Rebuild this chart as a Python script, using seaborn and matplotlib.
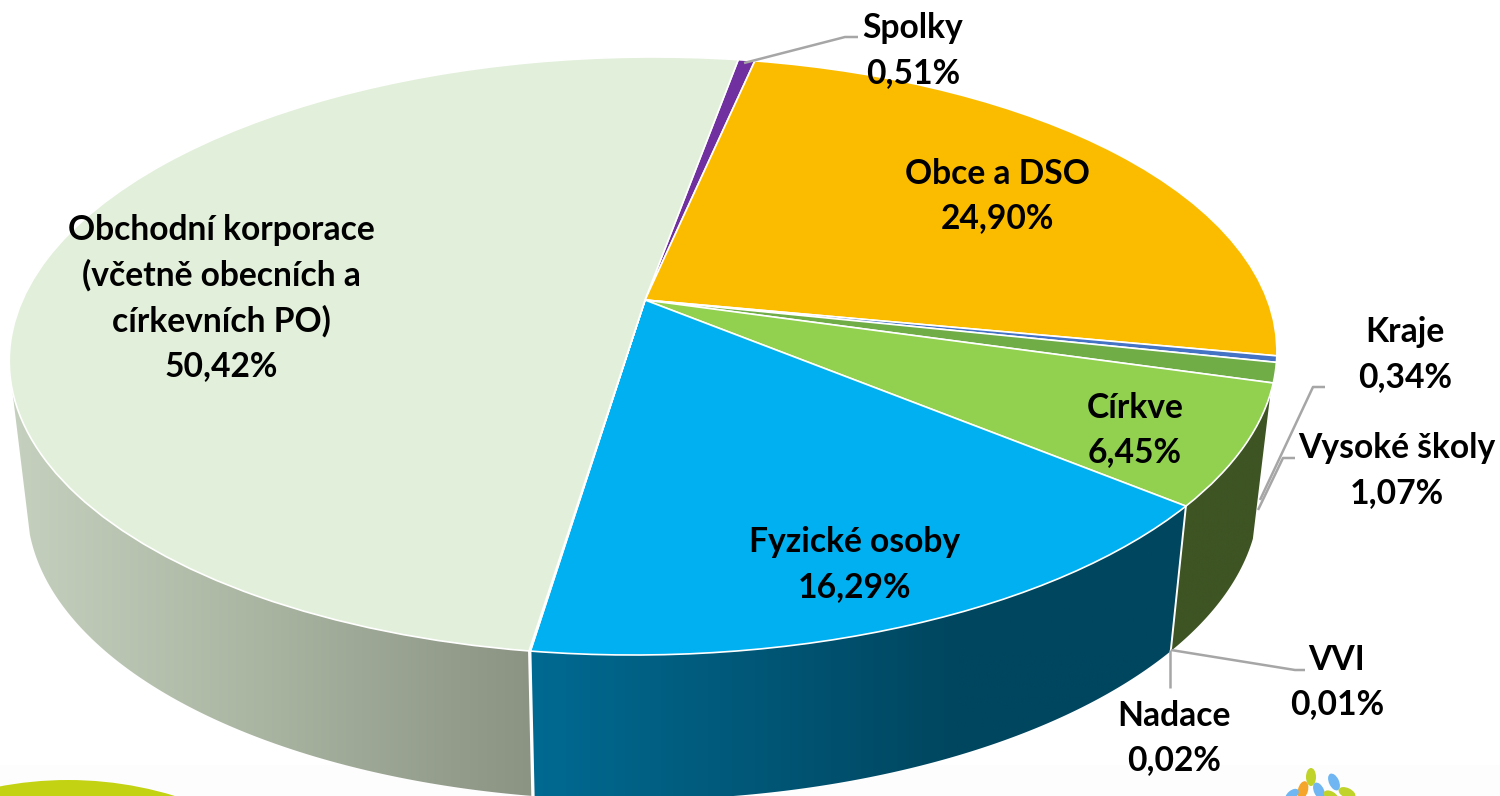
import numpy as np
import seaborn as sns
import matplotlib.pyplot as plt
from matplotlib.colors import LinearSegmentedColormap
from matplotlib.patches import Ellipse, Polygon
from matplotlib.transforms import Transform

# data
names = ["Spolky", "Obce a DSO", "Kraje", "Vysoké školy", "Církve", "Fyzické osoby",
         "Nadace", "VVI", "Obchodní korporace\n(včetně obecních a\ncírkevních PO)"]
shares = [0.51, 24.90, 0.34, 1.07, 6.45, 16.29, 0.02, 0.01, 50.42]
colors = ["#7030A0", "#FBBC00", "#4472C4", "#70AD47", "#92D050", "#00B0F0",
          "#1F4E79", "#7F7F7F", "#E2EFDA"]

# label centres in pixels
label_x = [913, 997, 1405, 1397, 1135, 855, 1174, 1337, 221]
label_y = [51, 196, 355, 471, 430, 565, 738, 682, 298]

leaders = [
    [(744, 63), (845, 37), (858, 37)],
    [(1260, 500), (1313, 387), (1325, 387)],
    [(1258, 510), (1283, 458), (1295, 458)],
    [(1171, 650), (1295, 670), (1305, 670)],
    [(1170, 650), (1170, 688)],
]

start_angle = 80.7
# geometry of the tilted disc, in pixels
cx, cy = 645, 300
sx, sy, skew, persp = 622.5, 288.5, 10, 0.1873
wall_dy, wall_sx = 145, 0.972


def project(x, y, lower=False):
    w = 1 + persp * y
    px = (sx * x + skew * y) / w
    py = sy * y / w
    if lower:
        return cx + wall_sx * px, cy - py + wall_dy
    return cx + px, cy - py


class DiscTransform(Transform):
    input_dims = 2
    output_dims = 2
    is_affine = False

    def transform_non_affine(self, values):
        values = np.asarray(values, dtype=float)
        px, py = project(values[:, 0], values[:, 1])
        return np.column_stack([px, py])


sns.set_theme(style="white")
plt.rcParams['font.family'] = ['Lato', 'DejaVu Sans']
palette = sns.color_palette(colors)

fig = plt.figure(figsize=(15, 7.96), dpi=100)
ax = fig.add_axes([0, 0, 1, 1])

wedges, _ = ax.pie(shares, colors=palette, startangle=start_angle, counterclock=False,
                   wedgeprops={'edgecolor': 'white', 'linewidth': 1.2})
disc = DiscTransform() + ax.transData
for w in wedges:
    w.set_transform(disc)
    w.set_zorder(5)
ax.set_aspect('auto')

# side walls, gradient colours run left to right
edges = start_angle - np.cumsum([0] + shares) / sum(shares) * 360
walls = [
    (edges[4] - 2, edges[5], ["#3E5423", "#3E5423"]),
    (edges[5], edges[6], [(0, "#006A92"), (0.65, "#00465F"), (1, "#00465F")]),
    (edges[8], -163, ["#C5D1BE", "#A8B3A0", "#8B9383"]),
]
for t0, t1, cols in walls:
    t = np.radians(np.linspace(t0, t1, 200))
    ux, uy = project(np.cos(t), np.sin(t))
    lx, ly = project(np.cos(t), np.sin(t), lower=True)
    pts = np.column_stack([np.r_[ux, lx[::-1]], np.r_[uy, ly[::-1]]])
    grad = np.linspace(0, 1, 256).reshape(1, -1)
    cmap = LinearSegmentedColormap.from_list("wall", cols)
    im = ax.imshow(grad, cmap=cmap, aspect='auto', zorder=2,
                   extent=(pts[:, 0].min(), pts[:, 0].max(), pts[:, 1].max(), pts[:, 1].min()))
    im.set_clip_path(Polygon(pts, transform=ax.transData))

# white seams between the walls
for t in [edges[5], edges[6], edges[8]]:
    t = np.radians(t)
    ux, uy = project(np.cos(t), np.sin(t))
    lx, ly = project(np.cos(t), np.sin(t), lower=True)
    ax.plot([ux, lx], [uy, ly], color='white', lw=1.4, zorder=3)

# slide decoration at the bottom
ax.axhspan(765, 796, color='#FDFDFD', lw=0, zorder=0)
ax.add_patch(Ellipse((68, 1146), 732, 732, color='#C3D314', lw=0, zorder=1))
leaves = [(1311, 777, 10, 18, 0, '#BFD32A'), (1334, 782, 10, 18, 25, '#6FB6F2'),
          (1303, 790, 10, 18, -15, '#F5A52C'), (1319, 791, 10, 18, 25, '#6FB6F2'),
          (1347, 793, 10, 18, 65, '#BFD32A'), (1331, 796, 9, 16, 60, '#BFD32A'),
          (1292, 795, 9, 16, -50, '#6FB6F2')]
for x, y, wd, ht, ang, col in leaves:
    ax.add_patch(Ellipse((x, y), wd, ht, angle=-ang, color=col, lw=0, zorder=1))

for line in leaders:
    xs, ys = zip(*line)
    ax.plot(xs, ys, color='#A6A6A6', lw=1.8, zorder=6, solid_capstyle='butt')

for name, val, x, y in zip(names, shares, label_x, label_y):
    txt = f"{name}\n{val:.2f}%".replace('.', ',')
    ax.text(x, y, txt, ha='center', va='center', ma='center', fontsize=24.2,
            fontweight='bold', color='black', linespacing=1.5, zorder=7)

ax.set_xlim(0, 1500)
ax.set_ylim(796, 0)
ax.axis('off')

fig.savefig("out.png", dpi=100, facecolor='white')
